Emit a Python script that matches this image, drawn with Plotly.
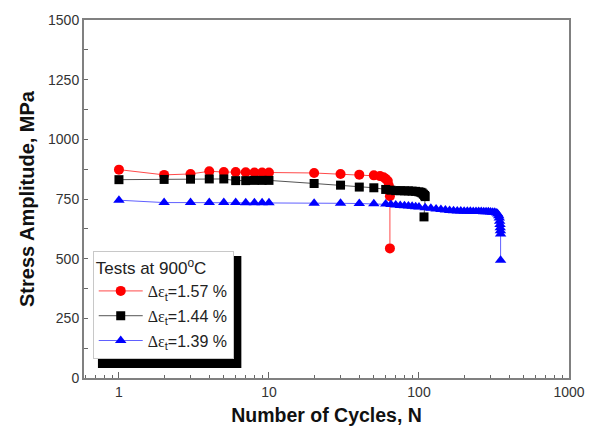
import plotly.graph_objects as go

# ---- data ----
red_n = [1, 2, 3, 4, 5, 6, 7, 8, 9, 10, 20, 30, 40, 50, 55, 58, 60, 62, 63, 64, 64]
red_s = [873, 851, 855, 866, 863, 863, 862, 861, 861, 861, 859, 855, 852, 849, 846, 841, 835, 825, 805, 762, 543]

blk_n = [1, 2, 3, 4, 5, 6, 7, 8, 9, 10, 20, 30, 40, 50, 60, 65, 70, 75, 80, 85, 90, 95,
         100, 103, 105, 107, 109, 110, 108]
blk_s = [831, 832, 833, 834, 834, 827, 827, 828, 828, 828, 815, 808, 800, 797, 790, 787, 785, 785,
         784, 784, 783, 782, 780, 778, 775, 770, 765, 760, 675]

blu_n = [1, 2, 3, 4, 5, 6, 7, 8, 9, 10, 20, 30, 40, 50, 60, 65, 70, 75, 80, 85, 90, 95, 100,
         110, 120, 130, 140, 150, 160, 170, 180, 190, 200, 210, 220, 230, 240, 250, 260, 270,
         280, 290, 300, 310, 320, 330, 335, 340, 343, 345, 347, 348, 349, 350, 350]
blu_s = [745, 735, 735, 735, 735, 735, 734, 734, 734, 734, 732, 732, 731, 730, 729, 727, 725,
         723, 722, 721, 720, 718, 716, 713, 711, 708, 706, 704, 702, 701, 700, 700, 699, 699,
         699, 698, 698, 698, 698, 697, 697, 697, 696, 695, 694, 691, 687, 680, 670, 657, 643,
         630, 617, 603, 493]

x_tick_vals = [1, 10, 100, 1000]
x_tick_text = ["1", "10", "100", "1000"]
x_minor_vals = [0.6, 0.7, 0.8, 0.9] + [m * d for d in (1, 10, 100) for m in range(2, 10)]
y_tick_vals = [0, 250, 500, 750, 1000, 1250, 1500]
y_minor_vals = [125, 375, 625, 875, 1125, 1375]

sans = "Liberation Sans, Arial, sans-serif"
serif = "'Liberation Serif', 'Times New Roman', serif"
def lab(v):
    return ("<span style=\"font-family:" + serif + "\">\u0394\u03b5</span>"
            "<sub>t</sub>=" + v + " %")

fig = go.Figure()
fig.add_trace(go.Scatter(x=red_n, y=red_s, mode="lines+markers", name=lab("1.57"),
                         legendgroup="a",
                         line=dict(color="#ff4a4a", width=1),
                         marker=dict(symbol="circle", size=10, color="#ff0000")))
fig.add_trace(go.Scatter(x=blk_n, y=blk_s, mode="lines+markers", name=lab("1.44"),
                         legendgroup="b",
                         line=dict(color="#555555", width=1),
                         marker=dict(symbol="square", size=9, color="#000000")))
fig.add_trace(go.Scatter(x=blu_n, y=blu_s, mode="lines+markers", name=lab("1.39"),
                         legendgroup="c",
                         line=dict(color="#6060ff", width=1),
                         marker=dict(symbol="triangle-up", size=10, color="#0000ff")))

axis_font = dict(family=sans, size=14, color="#333333")

fig.update_layout(
    width=597, height=435,
    margin=dict(l=84, r=26, t=17, b=57),
    paper_bgcolor="white", plot_bgcolor="white",
    showlegend=True,
    legend=dict(
        x=0.018, y=0.355, xanchor="left", yanchor="top",
        bgcolor="white", bordercolor="#c8c8c8", borderwidth=1,
        font=dict(family=sans, size=16, color="#222222"),
        title=dict(text="Tests at 900<sup>o</sup>C",
                   font=dict(family=sans, size=17, color="#222222")),
        itemwidth=44, tracegroupgap=1, traceorder="grouped",
    ),
    xaxis=dict(
        type="log", range=[-0.233, 3.0],
        tickvals=x_tick_vals, ticktext=x_tick_text,
        ticks="inside", ticklen=6, tickwidth=1, tickcolor="#666666",
        minor=dict(tickvals=x_minor_vals, ticks="inside", ticklen=3, tickcolor="#666666"),
        showline=True, linecolor="#808080", linewidth=2, mirror=True,
        showgrid=False, zeroline=False, tickfont=axis_font,
        title=dict(text="<b>Number of Cycles, N</b>",
                   font=dict(family=sans, size=19.5, color="#111111"), standoff=10),
    ),
    yaxis=dict(
        range=[0, 1500], tickvals=y_tick_vals,
        ticks="inside", ticklen=4, tickwidth=1, tickcolor="#666666",
        minor=dict(tickvals=y_minor_vals, ticks="inside", ticklen=4, tickcolor="#666666"),
        showline=True, linecolor="#808080", linewidth=2, mirror=True,
        showgrid=False, zeroline=False, tickfont=axis_font,
        title=dict(text="<b>Stress Amplitude, MPa</b>",
                   font=dict(family=sans, size=20, color="#111111"), standoff=8),
    ),
)

# legend drop shadow
fig.add_shape(type="rect", xref="paper", yref="paper",
              x0=(98 - 84) / 487, x1=(242 - 84) / 487,
              y0=(378 - 368) / 361, y1=(378 - 255) / 361,
              fillcolor="black", line=dict(width=0), layer="above")

fig.write_html("out.html")
